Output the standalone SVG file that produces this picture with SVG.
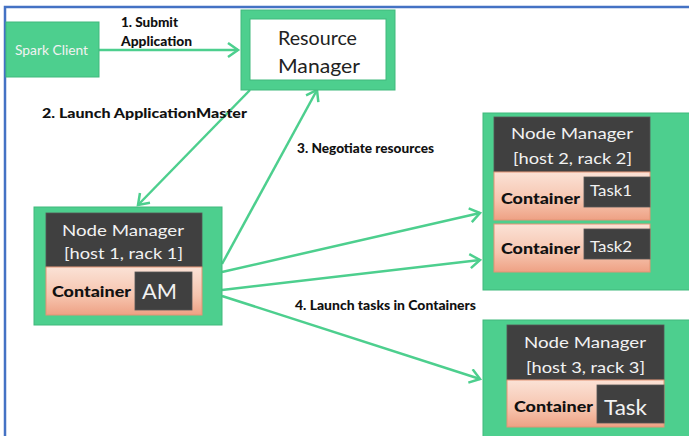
<svg xmlns="http://www.w3.org/2000/svg" width="689" height="436" viewBox="0 0 689 436">
<defs>
<style>
.frame{stroke:#4472c4;stroke-width:2.5;fill:none}
.green{fill:#4dcf8e;stroke:#40b97c;stroke-width:1}
.dark{fill:#404040;stroke:#555;stroke-width:0.8}
.salmon{fill:url(#sal);stroke:#e39474;stroke-width:1}
.conn{stroke:#4dcf8e;stroke-width:2.5;fill:none;marker-end:url(#ah)}
.lbl{font-family:Lato,"Liberation Sans",sans-serif;font-weight:900;font-size:13px;fill:#111}
.w{font-family:Lato,"Liberation Sans",sans-serif;fill:#f2f2f2}
.b{font-family:Lato,"Liberation Sans",sans-serif;fill:#222}
.cont{font-family:Lato,"Liberation Sans",sans-serif;font-weight:900;font-size:15px;fill:#111}
</style>
<linearGradient id="sal" x1="0" y1="0" x2="0" y2="1">
<stop offset="0" stop-color="#fbe2d6"/>
<stop offset="0.6" stop-color="#f6c4ae"/>
<stop offset="1" stop-color="#eea184"/>
</linearGradient>
<marker id="ah" markerUnits="userSpaceOnUse" markerWidth="20" markerHeight="20" refX="12" refY="8" orient="auto">
<path d="M2,1 L12,8 L2,15" fill="none" stroke="#4dcf8e" stroke-width="2.5"/>
</marker>
</defs>
<rect width="689" height="436" fill="#fff"/>
<path class="frame" d="M5,436 V7 H689"/>

<g id="connectors">
<line class="conn" x1="99" y1="50" x2="238" y2="50"/>
<line class="conn" x1="250" y1="90" x2="138" y2="205"/>
<line class="conn" x1="222" y1="264" x2="317" y2="90"/>
<line class="conn" x1="222" y1="272" x2="480" y2="213"/>
<line class="conn" x1="222" y1="290" x2="480" y2="260"/>
<line class="conn" x1="222" y1="296" x2="480" y2="379"/>
<text class="lbl" x="121" y="26.5" textLength="57" lengthAdjust="spacingAndGlyphs">1. Submit</text>
<text class="lbl" x="121" y="45.5" textLength="71" lengthAdjust="spacingAndGlyphs">Application</text>
<text class="lbl" x="42" y="117.5" textLength="205" lengthAdjust="spacingAndGlyphs">2. Launch ApplicationMaster</text>
<text class="lbl" x="297" y="152.5" textLength="137" lengthAdjust="spacingAndGlyphs">3. Negotiate resources</text>
<text class="lbl" x="295" y="309.5" textLength="181" lengthAdjust="spacingAndGlyphs">4. Launch tasks in Containers</text>
</g>

<g id="spark-client">
<rect class="green" x="6" y="22" width="93" height="55"/>
<text class="w" x="15" y="54.5" font-size="12.5" textLength="73" lengthAdjust="spacingAndGlyphs">Spark Client</text>
</g>

<g id="resource-manager">
<rect class="green" x="241" y="10" width="154" height="80"/>
<rect x="250" y="19" width="136" height="61" fill="#fff" stroke="#40b97c" stroke-width="1"/>
<text class="b" x="278" y="45" font-size="19" textLength="79" lengthAdjust="spacingAndGlyphs">Resource</text>
<text class="b" x="278" y="73" font-size="19" textLength="82" lengthAdjust="spacingAndGlyphs">Manager</text>
</g>

<g id="node-manager-1">
<rect class="green" x="34" y="207" width="188" height="118"/>
<rect class="dark" x="46" y="213" width="156" height="54"/>
<rect class="salmon" x="46" y="267" width="156" height="48"/>
<rect class="dark" x="135" y="272" width="57" height="38"/>
<text class="w" x="62" y="235.5" font-size="16" textLength="122" lengthAdjust="spacingAndGlyphs">Node Manager</text>
<text class="w" x="64" y="258.5" font-size="16" textLength="119" lengthAdjust="spacingAndGlyphs">[host 1, rack 1]</text>
<text class="cont" x="52" y="297" textLength="79" lengthAdjust="spacingAndGlyphs">Container</text>
<text class="w" x="142" y="299" font-size="22" textLength="35" lengthAdjust="spacingAndGlyphs">AM</text>
</g>

<g id="node-manager-2">
<rect class="green" x="483" y="113" width="210" height="177"/>
<rect class="dark" x="494" y="117" width="156" height="55"/>
<rect class="salmon" x="494" y="172" width="156" height="48"/>
<rect class="dark" x="584" y="177" width="66" height="30"/>
<rect class="salmon" x="494" y="224" width="156" height="48"/>
<rect class="dark" x="584" y="229" width="66" height="30"/>
<text class="w" x="511" y="139" font-size="16" textLength="122" lengthAdjust="spacingAndGlyphs">Node Manager</text>
<text class="w" x="513" y="164" font-size="16" textLength="119" lengthAdjust="spacingAndGlyphs">[host 2, rack 2]</text>
<text class="cont" x="501" y="203.5" textLength="79" lengthAdjust="spacingAndGlyphs">Container</text>
<text class="w" x="590" y="195.5" font-size="15" textLength="42" lengthAdjust="spacingAndGlyphs">Task1</text>
<text class="cont" x="501" y="253.5" textLength="79" lengthAdjust="spacingAndGlyphs">Container</text>
<text class="w" x="590" y="251.5" font-size="15" textLength="42" lengthAdjust="spacingAndGlyphs">Task2</text>
</g>

<g id="node-manager-3">
<rect class="green" x="483" y="320" width="210" height="120"/>
<rect class="dark" x="507" y="325" width="157" height="55"/>
<rect class="salmon" x="507" y="380" width="157" height="47"/>
<rect class="dark" x="597" y="385" width="67" height="38"/>
<text class="w" x="524" y="348" font-size="16" textLength="122" lengthAdjust="spacingAndGlyphs">Node Manager</text>
<text class="w" x="526" y="373" font-size="16" textLength="119" lengthAdjust="spacingAndGlyphs">[host 3, rack 3]</text>
<text class="cont" x="514" y="411.5" textLength="79" lengthAdjust="spacingAndGlyphs">Container</text>
<text class="w" x="604" y="414.5" font-size="21" textLength="43" lengthAdjust="spacingAndGlyphs">Task</text>
</g>
</svg>
